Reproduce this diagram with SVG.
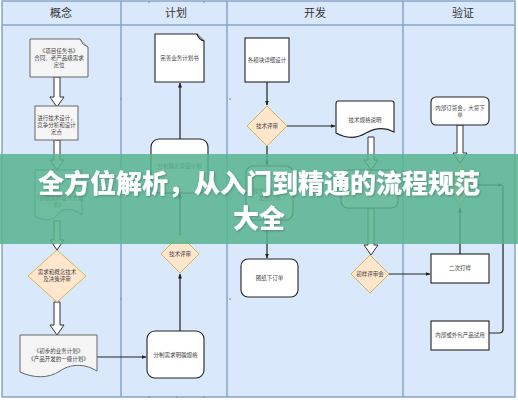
<svg xmlns="http://www.w3.org/2000/svg" width="518" height="400" viewBox="0 0 518 400">
<defs>
<marker id="ah" viewBox="0 0 10 10" refX="9" refY="5" markerWidth="5" markerHeight="5" orient="auto" markerUnits="userSpaceOnUse">
<path d="M0,1 L10,5 L0,9 Z" fill="#222"/>
</marker>
<filter id="sh" x="-5%" y="-20%" width="110%" height="140%">
<feDropShadow dx="1" dy="1" stdDeviation="1" flood-color="#000" flood-opacity="0.25"/>
</filter>
</defs>
<style>
.lane{fill:#dae8fc;stroke:#86a3cc;stroke-width:1.5}
.hd{font-family:"Noto Sans CJK SC","Noto Sans",sans-serif;font-size:11px;fill:#333;text-anchor:middle}
.t{font-family:"Noto Sans CJK SC","Noto Sans",sans-serif;font-size:5.5px;fill:#444;text-anchor:middle}
.gray{fill:#f5f5f5;stroke:#666;stroke-width:1}
.wht{fill:#fff;stroke:#222;stroke-width:1.1}
.dia{fill:#ffe6cc;stroke:#d6b656;stroke-width:1}
.ln{fill:none;stroke:#222;stroke-width:1.2}
.hol{fill:#fff;stroke:#333;stroke-width:1}
.mk{stroke:#8c9fc0;stroke-width:0.7}
.ban{font-family:"Noto Sans CJK SC","Noto Sans",sans-serif;font-size:26px;font-weight:900;fill:#fff;text-anchor:middle}
</style>
<rect x="0" y="0" width="518" height="400" fill="#ffffff"/>
<g id="lanes">
<rect class="lane" x="2" y="1" width="513" height="396"/>
<line class="lane" x1="2" y1="25" x2="515" y2="25"/>
<line class="lane" x1="121" y1="1" x2="121" y2="397"/>
<line class="lane" x1="227" y1="1" x2="227" y2="397"/>
<line class="lane" x1="403" y1="1" x2="403" y2="397"/>
<text class="hd" x="61" y="17">概念</text>
<text class="hd" x="176" y="17">计划</text>
<text class="hd" x="315" y="17">开发</text>
<text class="hd" x="463" y="17">验证</text>
<path class="mk" d="M120,98l2,2m0,-2l-2,2M120,198l2,2m0,-2l-2,2M120,298l2,2m0,-2l-2,2M229,98l2,2m0,-2l-2,2M229,198l2,2m0,-2l-2,2M229,298l2,2m0,-2l-2,2M148,1l2,2m0,-2l-2,2M203,1l2,2m0,-2l-2,2M148,396l2,2m0,-2l-2,2M176,396l2,2m0,-2l-2,2M203,396l2,2m0,-2l-2,2"/>
</g>
<g id="connectors">
<path class="hol" d="M54,77 h6 v20 h4 l-7,10 l-7,-10 h4 z"/>
<path class="hol" d="M54,140 h6 v20 h4 l-7,10 l-7,-10 h4 z"/>
<path class="hol" d="M54,221 h6 v19 h4 l-7,10 l-7,-10 h4 z"/>
<path class="hol" d="M54,302 h6 v23 h4 l-7,10 l-7,-10 h4 z"/>
<line class="ln" x1="97" y1="357" x2="146" y2="357" marker-end="url(#ah)"/>
<line class="ln" x1="180" y1="331" x2="180" y2="274" marker-end="url(#ah)"/>
<line class="ln" x1="180" y1="235" x2="180" y2="194" marker-end="url(#ah)"/>
<line class="ln" x1="180" y1="139" x2="180" y2="83" marker-end="url(#ah)"/>
<line class="ln" x1="267" y1="82" x2="267" y2="105" marker-end="url(#ah)"/>
<line class="ln" x1="287" y1="126" x2="335" y2="126" marker-end="url(#ah)"/>
<line class="ln" x1="267" y1="146" x2="267" y2="165" marker-end="url(#ah)"/>
<line class="ln" x1="267" y1="220" x2="267" y2="258" marker-end="url(#ah)"/>
<path class="hol" d="M368,137 h6 v23 h4 l-7,10 l-7,-10 h4 z"/>
<path class="hol" d="M368,208 h6 v37 h4 l-7,10 l-7,-10 h4 z"/>
<line class="ln" x1="389" y1="274" x2="430" y2="274" marker-end="url(#ah)"/>
<path class="hol" d="M457,125 h6 v28 h4 l-7,10 l-7,-10 h4 z"/>
<line class="ln" x1="460" y1="254" x2="460" y2="208" marker-end="url(#ah)"/>
<line class="ln" x1="472" y1="185" x2="502" y2="185" marker-end="url(#ah)"/>
<path class="ln" d="M489,333 H499 Q503,333 503,329 V185"/>
</g>
<g id="n1"><path class="gray" d="M30,39 H80 L88,47 V77 H30 Z"/><path class="gray" d="M80,39 Q82,45 88,47" fill="none"/>
<text class="t" x="59" y="53">《项目任务书》</text><text class="t" x="59" y="60">合同、老产品级需求</text><text class="t" x="59" y="67">定位</text></g>
<g id="n2"><rect class="gray" x="35" y="106" width="43" height="34"/>
<text class="t" x="56.5" y="120">进行技术设计，</text><text class="t" x="56.5" y="127">竞争分析和设计</text><text class="t" x="56.5" y="134">定点</text></g>
<g id="n3"><path class="gray" d="M35,170 H82 V215 C72,207 62,208 58,214 C53,221 44,222 35,216 Z"/>
<text class="t" x="58.5" y="200">《系统总体设计方案</text><text class="t" x="58.5" y="207">书》</text></g>
<g id="n4"><path class="dia" d="M57,250 L86,276 L57,302 L28,276 Z"/>
<text class="t" x="57" y="274">需求和概念技术</text><text class="t" x="57" y="281">及决策评审</text></g>
<g id="n5"><path class="gray" d="M20,335 H97 V371 C84,363 70,364 60,371 C48,379 33,378 20,372 Z"/>
<text class="t" x="58.5" y="353">《初步的业务计划》</text><text class="t" x="58.5" y="361">《产品开发的一级计划》</text></g>
<g id="n6"><path class="wht" d="M155,34 H197 L204,41 V82 H155 Z"/><path class="wht" d="M197,34 Q199,40 204,41" fill="none"/>
<text class="t" x="179.5" y="60">完善业务计划书</text></g>
<g id="n7"><rect class="wht" x="151" y="139" width="57" height="54" rx="8"/>
<text class="t" x="179.5" y="168">分制确定营设计划</text></g>
<g id="n8"><path class="dia" d="M180,235 L199,254 L180,273 L161,254 Z"/>
<text class="t" x="180" y="256">技术评审</text></g>
<g id="n9"><rect class="wht" x="147" y="331" width="57" height="47" rx="8"/>
<text class="t" x="175.5" y="357">分制需求明确规格</text></g>
<g id="n10"><rect class="wht" x="245" y="38" width="44" height="44"/>
<text class="t" x="267" y="62">各模块详细设计</text></g>
<g id="n11"><path class="dia" d="M267,106 L287,126 L267,146 L247,126 Z"/>
<text class="t" x="267" y="128">技术评审</text></g>
<g id="n12"><path class="wht" d="M338,101 H392 Q394,101 394,103 V132 C385,127 375,128 366,133 C356,139 345,138 336,133 V104 Q336,101 338,101 Z"/>
<text class="t" x="365" y="122">技术规格说明</text></g>
<g id="n13"><rect class="wht" x="246" y="166" width="47" height="54" rx="7"/>
<text class="t" x="269.5" y="193">技术资料整理</text><text class="t" x="269.5" y="200">发给订单</text></g>
<g id="n14"><rect class="wht" x="341" y="170" width="57" height="38" rx="7"/></g>
<g id="n15"><path class="dia" d="M370,255 L389,274 L370,293 L351,274 Z"/>
<text class="t" x="370" y="276">初样评审会</text></g>
<g id="n16"><rect class="wht" x="241" y="259" width="57" height="38" rx="7"/>
<text class="t" x="269.5" y="280">图纸下订单</text></g>
<g id="n17"><rect class="wht" x="431" y="97" width="58" height="28" rx="5"/>
<text class="t" x="460" y="110">内部订货会，大货下</text><text class="t" x="460" y="117">单</text></g>
<g id="n18"><path class="dia" d="M460,163 L472,185 L460,207 L448,185 Z"/></g>
<g id="n19"><rect class="wht" x="431" y="254" width="58" height="29"/>
<text class="t" x="460" y="270">二次打样</text></g>
<g id="n20"><rect class="wht" x="431" y="321" width="58" height="29"/>
<text class="t" x="460" y="337">内部或外包产品试用</text></g>
<g id="banner">
<rect x="0" y="154" width="518" height="90" fill="#59b390" opacity="0.86"/>
<g filter="url(#sh)">
<text class="ban" x="259" y="193">全方位解析，从入门到精通的流程规范</text>
<text class="ban" x="259" y="228">大全</text>
</g>
</g>
</svg>
